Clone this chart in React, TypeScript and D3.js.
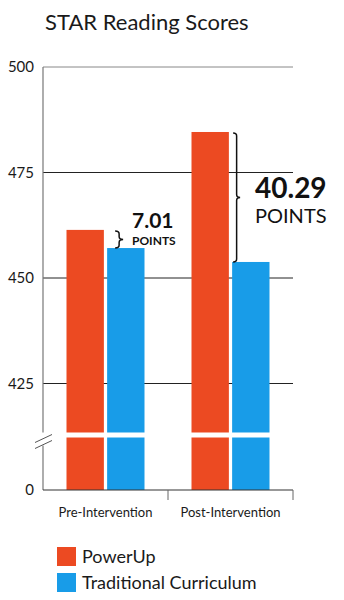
import React from "react";
import * as d3 from "d3";

const categories = ["Pre-Intervention", "Post-Intervention"];
const seriesNames = ["PowerUp", "Traditional Curriculum"];
const powerUp = [461.4, 484.6];
const traditional = [457.1, 453.8];
const diffLabels = ["7.01", "40.29"];
const yTicks = [500, 475, 450, 425];
const colors = ["#EC4A22", "#189CE8"];

const W = 344;
const H = 600;
const FONT = "Lato, 'Noto Sans', sans-serif";

export default function App() {
  const x0 = d3.scaleBand().domain(categories).range([43, 293]).paddingInner(0).paddingOuter(0);
  const x1 = d3.scaleBand().domain(seriesNames).range([0, 78]).paddingInner(0.08);
  const breakVal = 412.8;
  const y = d3.scaleLinear().domain([0, breakVal, 500]).range([490, 435, 67]);
  const innerOffset = (x0.bandwidth() - 78) / 2;

  const bars: { cat: string; s: string; v: number; i: number }[] = [];
  categories.forEach((c, ci) => {
    bars.push({ cat: c, s: seriesNames[0], v: powerUp[ci], i: 0 });
    bars.push({ cat: c, s: seriesNames[1], v: traditional[ci], i: 1 });
  });

  const brace = (bx: number, top: number, bot: number, w: number) => {
    const mid = (top + bot) / 2;
    const r = Math.min(3, (bot - top) / 4);
    const xm = bx + w / 2;
    return `M${bx},${top} Q${xm},${top} ${xm},${top + r} L${xm},${mid - r} Q${xm},${mid} ${bx + w},${mid} Q${xm},${mid} ${xm},${mid + r} L${xm},${bot - r} Q${xm},${bot} ${bx},${bot}`;
  };

  const gapTop = y(breakVal) - 2.5;

  return (
    <svg width={W} height={H} style={{ position: "absolute", left: 0, top: 0, background: "#fff" }}>
      <text x={45} y={30} fontFamily={FONT} fontSize={22} fill="#1a1a1a">STAR Reading Scores</text>

      {yTicks.map((t, i) => (
        <g key={t}>
          <line x1={43} x2={293} y1={y(t)} y2={y(t)} stroke={i === 0 ? "#888" : "#222"} strokeWidth={1} />
          <text x={34} y={y(t) + 5} textAnchor="end" fontFamily={FONT} fontSize={15} fill="#1a1a1a">{t}</text>
        </g>
      ))}
      <text x={34} y={y(0) + 5} textAnchor="end" fontFamily={FONT} fontSize={15} fill="#1a1a1a">0</text>

      {bars.map((b) => {
        const bx = (x0(b.cat) as number) + innerOffset + (x1(b.s) as number);
        return (
          <rect key={b.cat + b.s} x={bx} y={y(b.v)} width={x1.bandwidth()} height={y(0) - y(b.v)} fill={colors[b.i]} />
        );
      })}

      <rect x={43.5} y={gapTop} width={250} height={5} fill="#fff" />

      <line x1={43} x2={43} y1={67} y2={gapTop} stroke="#777" strokeWidth={1.2} />
      <line x1={43} x2={43} y1={gapTop + 13} y2={490} stroke="#777" strokeWidth={1.2} />
      <line x1={35} x2={52} y1={gapTop + 10} y2={gapTop + 2} stroke="#555" strokeWidth={1} />
      <line x1={35} x2={52} y1={gapTop + 16} y2={gapTop + 8} stroke="#555" strokeWidth={1} />

      <line x1={43} x2={293} y1={490} y2={490} stroke="#333" strokeWidth={1.2} />
      {[x0.range()[0] + x0.bandwidth(), x0.range()[1]].map((tx) => (
        <line key={tx} x1={tx} x2={tx} y1={490} y2={500} stroke="#666" strokeWidth={1} />
      ))}
      {categories.map((c) => (
        <text key={c} x={(x0(c) as number) + x0.bandwidth() / 2} y={517} textAnchor="middle" fontFamily={FONT} fontSize={13} fill="#1a1a1a">{c}</text>
      ))}

      {categories.map((c, ci) => {
        const blueX = (x0(c) as number) + innerOffset + (x1(seriesNames[1]) as number);
        const top = y(powerUp[ci]) + 1;
        const bot = y(traditional[ci]);
        const big = ci === 1;
        const bx = big ? blueX + 1 : blueX + 8;
        const w = big ? 7 : 8;
        const tx = big ? 255 : 132;
        return (
          <g key={c}>
            <path d={brace(bx, top, bot, w)} fill="none" stroke="#111" strokeWidth={1.5} />
            <text x={tx} y={big ? 198 : 228} fontFamily={FONT} fontWeight={700} fontSize={big ? 28 : 21} fill="#111">{diffLabels[ci]}</text>
            <text x={tx} y={big ? 223 : 245} fontFamily={FONT} fontWeight={big ? 400 : 700} fontSize={big ? 20 : 12} fill="#111">POINTS</text>
          </g>
        );
      })}

      {seriesNames.map((s, i) => (
        <g key={s}>
          <rect x={57} y={547 + i * 26} width={19} height={19} fill={colors[i]} />
          <text x={82} y={563 + i * 26} fontFamily={FONT} fontSize={18} fill="#1a1a1a">{s}</text>
        </g>
      ))}
    </svg>
  );
}
